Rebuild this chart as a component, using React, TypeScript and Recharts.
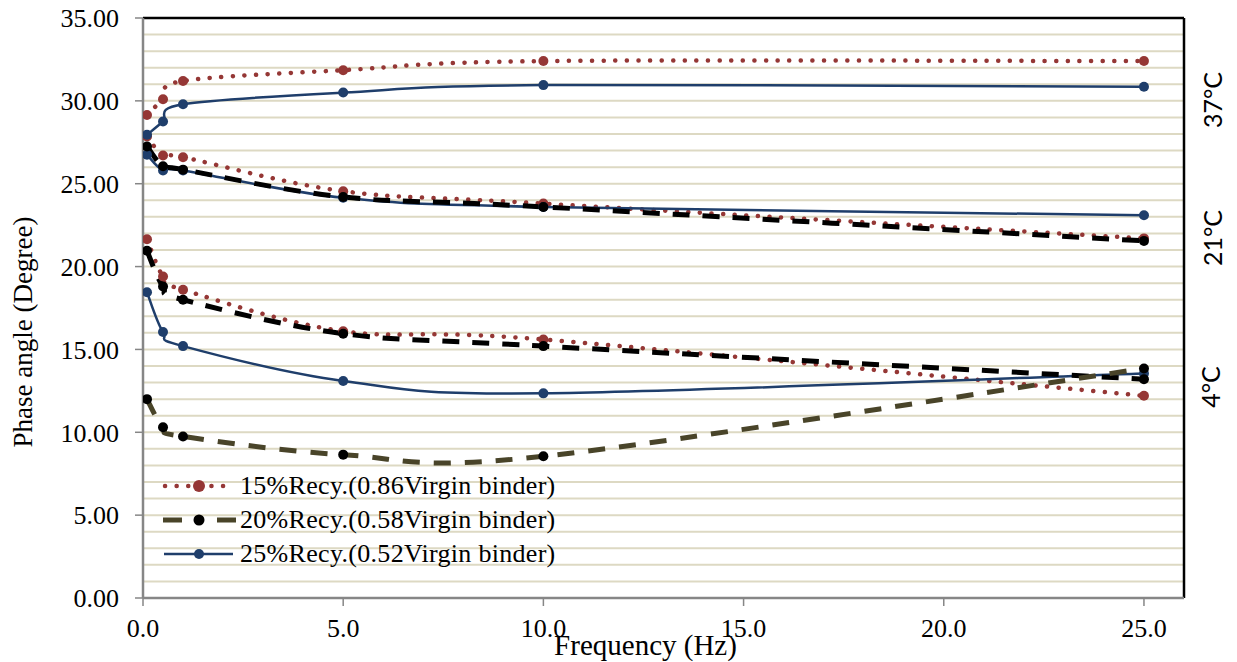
import {
  LineChart, Line, XAxis, YAxis, CartesianGrid, ReferenceLine, Legend,
} from 'recharts';

// test frequencies (Hz)
const FREQ = [0.1, 0.5, 1, 5, 10, 25];

// 15% recycled (0.86 virgin binder)
const R15_37C = [29.15, 30.1, 31.2, 31.85, 32.4, 32.4];
const R15_21C = [27.85, 26.7, 26.6, 24.55, 23.8, 21.7];
const R15_4C = [21.65, 19.4, 18.6, 16.1, 15.6, 12.2];

// 20% recycled (0.58 virgin binder)
const R20_LOW = [12.0, 10.3, 9.75, 8.65, 8.55, 13.85];
const R20_21C = [27.25, 26.05, 25.85, 24.2, 23.6, 21.55];
const R20_4C = [20.95, 18.8, 18.0, 15.95, 15.2, 13.2];

// 25% recycled (0.52 virgin binder)
const R25_37C = [27.95, 28.75, 29.8, 30.5, 30.95, 30.85];
const R25_21C = [26.75, 25.8, 25.8, 24.15, 23.6, 23.1];
const R25_4C = [18.45, 16.05, 15.2, 13.1, 12.35, 13.55];

const Y_TICKS = [0, 5, 10, 15, 20, 25, 30, 35];
const X_TICKS = [0, 5, 10, 15, 20, 25];
const GRID_VALUES = [
  1, 2, 3, 4, 5, 6, 7, 8, 9, 10, 11, 12, 13, 14, 15, 16, 17,
  18, 19, 20, 21, 22, 23, 24, 25, 26, 27, 28, 29, 30, 31, 32, 33, 34,
];
const TEMPS = ['37°C', '21°C', '4°C'];

const NAME_15 = '15%Recy.(0.86Virgin binder)';
const NAME_20 = '20%Recy.(0.58Virgin binder)';
const NAME_25 = '25%Recy.(0.52Virgin binder)';

const RED = '#953735';
const NAVY = '#1F3E6B';
const OLIVE = '#494429';
const BLACK = '#000000';
const GRID = '#DDD9C3';
const AXIS = '#868686';
const SERIF = '"Liberation Serif", "Times New Roman", serif';

const toRows = (vals: number[]) => FREQ.map((f, i) => ({ f, v: vals[i] }));

// Excel-like smoothed line (Catmull-Rom through the points)
const excelSmooth = (context: any) => {
  let pts: number[][] = [];
  return {
    areaStart() {},
    areaEnd() {},
    lineStart() { pts = []; },
    point(x: number, y: number) { pts.push([+x, +y]); },
    lineEnd() {
      const n = pts.length;
      if (!n) return;
      context.moveTo(pts[0][0], pts[0][1]);
      for (let i = 0; i < n - 1; i++) {
        const p0 = pts[i - 1] || pts[i];
        const p1 = pts[i];
        const p2 = pts[i + 1];
        const p3 = pts[i + 2] || p2;
        context.bezierCurveTo(
          p1[0] + (p2[0] - p0[0]) / 6, p1[1] + (p2[1] - p0[1]) / 6,
          p2[0] - (p3[0] - p1[0]) / 6, p2[1] - (p3[1] - p1[1]) / 6,
          p2[0], p2[1],
        );
      }
    },
  };
};

const dotted = { stroke: RED, strokeWidth: 4.5, strokeDasharray: '0.1 11.5', strokeLinecap: 'round' as const };
const dashedBlack = { stroke: BLACK, strokeWidth: 5, strokeDasharray: '17 13' };
const dashedOlive = { stroke: OLIVE, strokeWidth: 5, strokeDasharray: '17 14' };
const solidNavy = { stroke: NAVY, strokeWidth: 2.5 };

const dot = (c: string, r = 5) => ({ r, fill: c, stroke: c, strokeWidth: 0, strokeDasharray: '' });

const LEGEND_ICONS: Record<string, JSX.Element> = {
  [NAME_15]: (
    <svg width={76} height={20}>
      <line x1={5} y1={10} x2={66} y2={10} stroke={RED} strokeWidth={4.5} strokeDasharray="0.1 11.5" strokeLinecap="round" />
      <circle cx={39} cy={10} r={6} fill={RED} />
    </svg>
  ),
  [NAME_20]: (
    <svg width={76} height={20}>
      <line x1={3} y1={10} x2={76} y2={10} stroke={OLIVE} strokeWidth={5} strokeDasharray="19 35" />
      <circle cx={39} cy={10} r={5.5} fill={BLACK} />
    </svg>
  ),
  [NAME_25]: (
    <svg width={76} height={20}>
      <line x1={4} y1={10} x2={73} y2={10} stroke={NAVY} strokeWidth={2.5} />
      <circle cx={39} cy={10} r={5} fill={NAVY} />
    </svg>
  ),
};

const renderLegend = (props: any) => {
  const items = (props.payload || []).filter((p: any) => LEGEND_ICONS[p.value]);
  return (
    <div style={{ fontFamily: SERIF, fontSize: 26, color: '#000', lineHeight: '34px' }}>
      {items.map((p: any) => (
        <div key={p.value} style={{ display: 'flex', alignItems: 'center', height: 34 }}>
          {LEGEND_ICONS[p.value]}
          <span style={{ marginLeft: 4, whiteSpace: 'nowrap', letterSpacing: 0.3 }}>{p.value}</span>
        </div>
      ))}
    </div>
  );
};

const XTitle = (props: any) => {
  const { x, y, width } = props.viewBox;
  return (
    <text x={x + width / 2 - 18} y={y + 57} textAnchor="middle" fontFamily={SERIF} fontSize={29} fill="#000">
      Frequency (Hz)
    </text>
  );
};

const YTitle = (props: any) => {
  const { y, height } = props.viewBox;
  const cx = 32;
  const cy = y + height / 2 + 24;
  return (
    <text x={cx} y={cy} transform={`rotate(-90 ${cx} ${cy})`} textAnchor="middle" fontFamily={SERIF} fontSize={27} fill="#000">
      Phase angle (Degree)
    </text>
  );
};

const TEMP_POS = [
  { left: 1212, top: 100 },
  { left: 1212, top: 238 },
  { left: 1210, top: 387 },
];

export default function App() {
  return (
    <div style={{ position: 'absolute', left: 0, top: 0, width: 1237, height: 662, background: '#fff' }}>
      <LineChart width={1237} height={662} margin={{ top: 18, right: 53, bottom: 0, left: 0 }}>
        <CartesianGrid yAxisId="grid" horizontal vertical={false} stroke={GRID} strokeWidth={2} />
        <XAxis
          type="number"
          dataKey="f"
          domain={[0, 26]}
          ticks={X_TICKS}
          allowDataOverflow
          tickFormatter={(v: number) => v.toFixed(1)}
          height={64}
          tickSize={8}
          tickMargin={13}
          axisLine={{ stroke: AXIS, strokeWidth: 2.5 }}
          tickLine={{ stroke: AXIS, strokeWidth: 1.5 }}
          tick={{ fill: '#000', fontSize: 26, fontFamily: SERIF }}
          label={<XTitle />}
        />
        <YAxis
          type="number"
          domain={[0, 35]}
          ticks={Y_TICKS}
          allowDataOverflow
          tickFormatter={(v: number) => v.toFixed(2)}
          width={143}
          tickSize={8}
          tickMargin={16}
          axisLine={{ stroke: AXIS, strokeWidth: 2.5 }}
          tickLine={{ stroke: AXIS, strokeWidth: 1.5 }}
          tick={{ fill: '#000', fontSize: 26, fontFamily: SERIF }}
          label={<YTitle />}
        />
        {/* hidden axis that only carries the 1-degree grid rows */}
        <YAxis yAxisId="grid" type="number" domain={[0, 35]} ticks={GRID_VALUES} interval={0} allowDataOverflow hide />
        <ReferenceLine y={35} stroke="#000" strokeWidth={2.5} />
        <ReferenceLine x={26} stroke="#000" strokeWidth={2.5} />

        <Line data={toRows(R15_37C)} dataKey="v" name={NAME_15} type={excelSmooth} {...dotted} dot={dot(RED)} isAnimationActive={false} />
        <Line data={toRows(R15_21C)} dataKey="v" name="r15_21" legendType="none" type={excelSmooth} {...dotted} dot={dot(RED)} isAnimationActive={false} />
        <Line data={toRows(R15_4C)} dataKey="v" name="r15_4" legendType="none" type={excelSmooth} {...dotted} dot={dot(RED)} isAnimationActive={false} />

        <Line data={toRows(R25_37C)} dataKey="v" name={NAME_25} type={excelSmooth} {...solidNavy} dot={dot(NAVY)} isAnimationActive={false} />
        <Line data={toRows(R25_21C)} dataKey="v" name="r25_21" legendType="none" type={excelSmooth} {...solidNavy} dot={dot(NAVY)} isAnimationActive={false} />
        <Line data={toRows(R25_4C)} dataKey="v" name="r25_4" legendType="none" type={excelSmooth} {...solidNavy} dot={dot(NAVY)} isAnimationActive={false} />

        <Line data={toRows(R20_21C)} dataKey="v" name="r20_21" legendType="none" type={excelSmooth} {...dashedBlack} dot={dot(BLACK)} isAnimationActive={false} />
        <Line data={toRows(R20_4C)} dataKey="v" name="r20_4" legendType="none" type={excelSmooth} {...dashedBlack} dot={dot(BLACK)} isAnimationActive={false} />
        <Line data={toRows(R20_LOW)} dataKey="v" name={NAME_20} type={excelSmooth} {...dashedOlive} dot={dot(BLACK)} isAnimationActive={false} />

        <Legend
          layout="vertical"
          verticalAlign="middle"
          align="center"
          content={renderLegend}
          wrapperStyle={{ left: 160, top: 469, width: 440 }}
        />
      </LineChart>
      {TEMPS.map((t, i) => (
        <div
          key={t}
          style={{
            position: 'absolute',
            left: TEMP_POS[i].left,
            top: TEMP_POS[i].top,
            transform: 'translate(-50%, -50%) rotate(-90deg)',
            fontFamily: 'Lato, "Open Sans", sans-serif',
            fontSize: 25,
            color: '#000',
            whiteSpace: 'nowrap',
          }}
        >
          {t}
        </div>
      ))}
    </div>
  );
}
